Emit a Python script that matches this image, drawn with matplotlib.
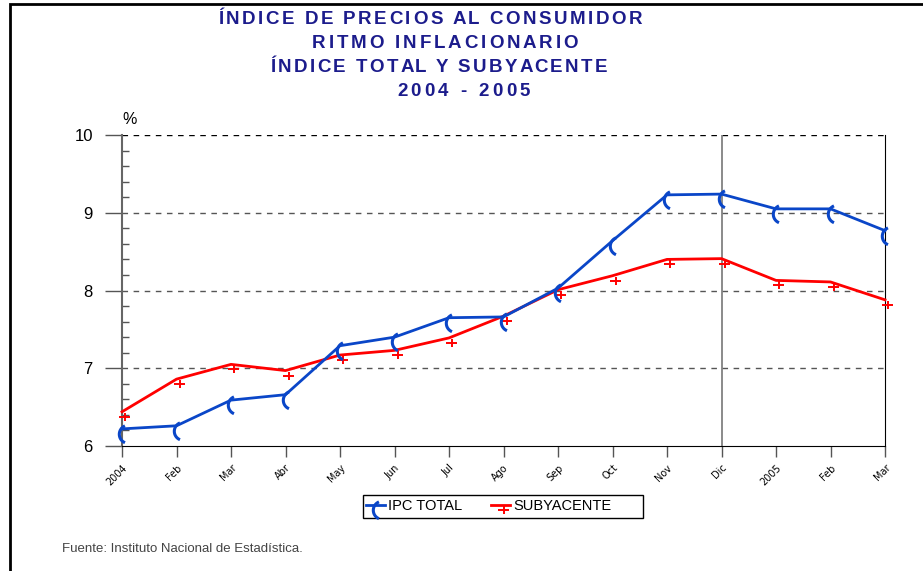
import matplotlib
matplotlib.use("Agg")
import matplotlib.pyplot as plt
import numpy as np
from matplotlib.path import Path
from matplotlib.patches import Rectangle

# Data
meses = ["2004", "Feb", "Mar", "Abr", "May", "Jun", "Jul", "Ago",
         "Sep", "Oct", "Nov", "Dic", "2005", "Feb", "Mar"]
ipc_total = [6.22, 6.26, 6.59, 6.66, 7.29, 7.40, 7.65, 7.66,
             8.03, 8.64, 9.23, 9.24, 9.05, 9.05, 8.77]
subyacente = [6.44, 6.86, 7.05, 6.97, 7.17, 7.23, 7.39, 7.67,
              8.01, 8.19, 8.40, 8.41, 8.13, 8.11, 7.88]

titulo = ["ÍNDICE DE PRECIOS AL CONSUMIDOR", "RITMO INFLACIONARIO",
          "ÍNDICE TOTAL Y SUBYACENTE", "2004 - 2005"]

plt.rcParams['font.family'] = ['Liberation Sans', 'DejaVu Sans']

BLUE = '#0a46c8'
RED = '#ff0000'
NAVY = '#1c1c8c'
W, H = 923, 571

# custom markers: "(" arc for IPC, shifted "+" for subyacente
ang = np.linspace(np.radians(112), np.radians(248), 20)
arc = np.column_stack([5.5 + 8.5 * np.cos(ang), -4.5 + 8.5 * np.sin(ang)])
arc_marker = Path(arc, [Path.MOVETO] + [Path.LINETO] * (len(arc) - 1))
plus_marker = Path([(-3, -5), (8, -5), (2.5, -1), (2.5, -9)],
                   [Path.MOVETO, Path.LINETO, Path.MOVETO, Path.LINETO])

fig = plt.figure(figsize=(W / 100, H / 100), dpi=100)
ax = fig.add_axes([122 / W, 1 - 446 / H, 763 / W, 311 / H])

x = np.arange(len(meses))
ax.plot(x, ipc_total, color=BLUE, lw=2, marker=arc_marker, ms=19,
        mec=BLUE, mfc='none', mew=2.2, label='IPC TOTAL', zorder=4,
        clip_on=False)
ax.plot(x, subyacente, color=RED, lw=2, marker=plus_marker, ms=13,
        mec=RED, mfc='none', mew=1.4, label='SUBYACENTE', zorder=3,
        clip_on=False)

ax.set_xlim(0, len(meses) - 1)
ax.set_ylim(6, 10)
ax.set_yticks([6, 7, 8, 9, 10])
ax.set_yticks(np.arange(6, 10.01, 0.2), minor=True)
ax.tick_params(axis='y', which='major', direction='out', length=12,
               width=1, color='#555555', labelsize=12, pad=9)
ax.tick_params(axis='y', which='minor', direction='in', length=5,
               width=1, color='#555555')
ax.set_xticks(x)
ax.set_xticklabels(meses, rotation=45, ha='right', va='top',
                   rotation_mode='anchor', fontsize=7, family='DejaVu Sans')
ax.tick_params(axis='x', direction='out', length=8, width=1,
               color='#555555', pad=4)

for v in [7, 8, 9]:
    ax.axhline(v, color='#555555', ls=(0, (4, 4)), lw=1, zorder=1)
ax.axhline(10, color='black', ls=(0, (4, 4)), lw=1, zorder=1)
ax.axvline(11, color='#777777', lw=1.2, zorder=2)

ax.spines['top'].set_visible(False)
ax.spines['left'].set_color('#666666')
ax.spines['left'].set_linewidth(1.5)
ax.spines['bottom'].set_color('black')
ax.spines['right'].set_color('black')

ax.text(0.0, 10.1, '%', fontsize=11.5, ha='left', va='bottom')

# legend without its own frame, box drawn separately (wider than content)
leg = fig.legend(*ax.get_legend_handles_labels(), loc='upper left',
                 bbox_to_anchor=(364 / W, 1 - 497 / H), ncol=2,
                 frameon=False, fontsize=10.5, handlelength=1.3,
                 handletextpad=0.2, columnspacing=2.0, borderpad=0.15,
                 borderaxespad=0)
fig.patches.append(Rectangle((363 / W, 1 - 518 / H), 280 / W, 23 / H,
                             transform=fig.transFigure, fill=False,
                             edgecolor='black', lw=1))

# title lines, letter-spaced to the widths of the reference
renderer = fig.canvas.get_renderer()
spans = [(218, 642), (312, 578), (270, 607), (397, 530)]
for i, (t, (x0, x1)) in enumerate(zip(titulo, spans)):
    y = 1 - (20 + 24 * i) / H
    kw = dict(color=NAVY, fontsize=13.5, fontweight='bold', va='center',
              ha='left')
    full = fig.text(0, 0, t, **kw)
    wfull = full.get_window_extent(renderer).width
    full.remove()
    track = ((x1 - x0) - wfull) / max(len(t) - 1, 1)
    for j, ch in enumerate(t):
        if j == 0:
            off = 0.0
        else:
            pre = fig.text(0, 0, t[:j] + 'x', **kw)
            wx = fig.text(0, 0, 'x', **kw)
            off = (pre.get_window_extent(renderer).width
                   - wx.get_window_extent(renderer).width)
            pre.remove()
            wx.remove()
        fig.text((x0 + off + j * track) / W, y, ch, **kw)

fig.text(62 / W, 1 - 549 / H, 'Fuente: Instituto Nacional de Estadística.',
         fontsize=9.5, color='#444444', ha='left', va='center')

# outer frame of the figure
fig.patches.append(Rectangle((10 / W, -0.05), 1.1, 1.05 - 4 / H,
                             transform=fig.transFigure, fill=False,
                             edgecolor='black', lw=2))

fig.savefig('out.png', dpi=100)
